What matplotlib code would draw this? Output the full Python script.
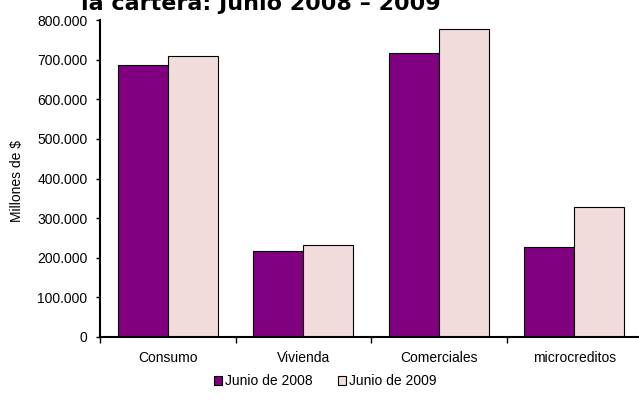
import matplotlib
matplotlib.use("Agg")
import matplotlib.pyplot as plt
import numpy as np

# Data (millones de $)
categorias = ['Consumo', 'Vivienda', 'Comerciales', 'microcreditos']
junio_2008 = [687000, 218000, 716000, 228000]
junio_2009 = [710000, 231000, 778000, 329000]
series_labels = ['Junio de 2008', 'Junio de 2009']
yticks = [0, 100000, 200000, 300000, 400000, 500000, 600000, 700000, 800000]

plt.rcParams['font.family'] = ['Liberation Sans', 'DejaVu Sans']

fig = plt.figure(figsize=(6.39, 4.04), dpi=100)
ax = fig.add_axes([100/639, 1-337/404, 542/639, (337-20)/404])

x = np.arange(len(categorias))
w = 0.37
ax.bar(x - w/2, junio_2008, w, color='#800080', edgecolor='black', linewidth=0.8, label=series_labels[0])
ax.bar(x + w/2, junio_2009, w, color='#F1DCDB', edgecolor='black', linewidth=0.8, label=series_labels[1])

ax.set_xlim(-0.5, len(categorias) - 0.5)
ax.set_ylim(0, 800000)
ax.set_yticks(yticks)
ax.set_yticklabels([f'{v:,.0f}'.replace(',', '.') for v in yticks], fontsize=10)

ax.set_xticks(x)
ax.set_xticklabels(categorias, fontsize=10)
ax.tick_params(axis='x', which='major', length=0, pad=10)
ax.set_xticks(np.arange(-0.5, len(categorias), 1), minor=True)
ax.tick_params(axis='x', which='minor', length=4, width=1, direction='out')
ax.tick_params(axis='y', length=3, width=1, direction='out', pad=6)

for s in ['top', 'right']:
    ax.spines[s].set_visible(False)
for s in ['left', 'bottom']:
    ax.spines[s].set_linewidth(1.5)

fig.text(17/639, 1-181/404, 'Millones de $', rotation=90, fontsize=10, ha='center', va='center')

fig.text(261/639, 1-10/404, 'la cartera: Junio 2008 – 2009', fontsize=16, fontweight='bold',
         family='DejaVu Sans', ha='center', va='baseline')

fig.legend(loc='center', bbox_to_anchor=(325/639, 1-381/404), ncol=2, frameon=False,
           fontsize=10, handlelength=0.6, handleheight=0.6, handletextpad=0.2,
           columnspacing=1.8)

fig.savefig('out.png', dpi=100)
